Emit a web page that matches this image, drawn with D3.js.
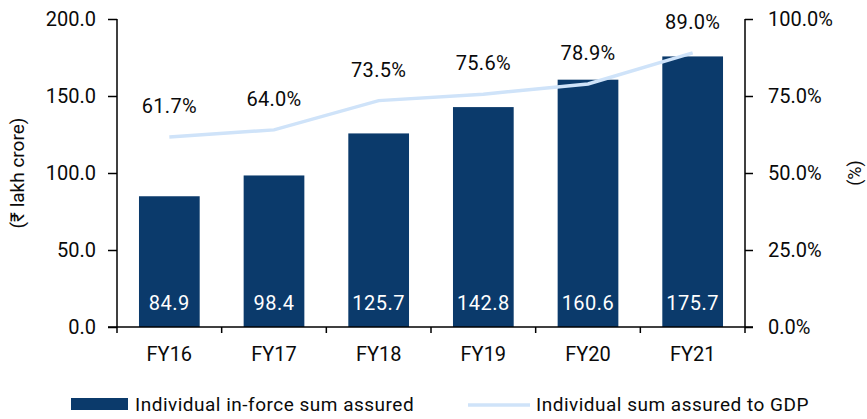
<!DOCTYPE html>
<html><head><meta charset="utf-8">
<script src="https://cdn.jsdelivr.net/npm/d3@7/dist/d3.min.js"></script>
<style>body{margin:0;background:#fff}svg{display:block}text{font-family:Roboto,"Liberation Sans",sans-serif}</style>
</head><body><svg id="c" width="867" height="419"></svg>
<script>
const categories = ["FY16","FY17","FY18","FY19","FY20","FY21"];
const sumAssured = [84.9, 98.4, 125.7, 142.8, 160.6, 175.7];
const gdpRatio = [61.7, 64.0, 73.5, 75.6, 78.9, 89.0];
const leftTicks = [0, 50, 100, 150, 200];
const rightTicks = [0, 25, 50, 75, 100];
const seriesNames = ["Individual in-force sum assured", "Individual sum assured to GDP"];

const svg = d3.select("#c");
const L = 117, R = 745, T = 19, B = 327;
const barColor = "#0b3a6b", lineColor = "#cfe3f9", ink = "#0a0a0a";
const fs = 20;

const x = d3.scaleBand().domain(categories).range([L, R]).paddingInner(0.42).paddingOuter(0.21);
const yL = d3.scaleLinear().domain([0, 200]).range([B, T]);
const yR = d3.scaleLinear().domain([0, 100]).range([B, T]);

// bars
svg.append("g").selectAll("rect").data(sumAssured).join("rect")
  .attr("x", (d,i) => x(categories[i])).attr("width", x.bandwidth())
  .attr("y", d => yL(d)).attr("height", d => B - yL(d)).attr("fill", barColor);

svg.append("g").selectAll("text").data(sumAssured).join("text")
  .attr("x", (d,i) => x(categories[i]) + x.bandwidth()/2).attr("y", B - 17)
  .attr("text-anchor", "middle").attr("fill", "#fff").attr("font-size", 20).attr("letter-spacing", 0.5)
  .text(d => d.toFixed(1));

// line
const cx = (i) => x(categories[i]) + x.bandwidth()/2;
const line = d3.line().x((d,i) => cx(i)).y(d => yR(d));
svg.append("path").datum(gdpRatio).attr("d", line).attr("fill", "none")
  .attr("stroke", lineColor).attr("stroke-width", 3.5);

svg.append("g").selectAll("text").data(gdpRatio).join("text")
  .attr("x", (d,i) => cx(i)).attr("y", d => yR(d) - 24)
  .attr("text-anchor", "middle").attr("fill", ink).attr("font-size", fs).attr("letter-spacing", 0.3)
  .text(d => d.toFixed(1) + "%");

// axes
const axL = svg.append("g").attr("transform", `translate(${L},0)`)
  .call(d3.axisLeft(yL).tickValues(leftTicks).tickFormat(d => d.toFixed(1)).tickSize(9).tickPadding(12));
const axR = svg.append("g").attr("transform", `translate(${R},0)`)
  .call(d3.axisRight(yR).tickValues(rightTicks).tickFormat(d => d.toFixed(1) + "%").tickSize(8).tickPadding(15));
const xb = d3.scaleBand().domain(categories).range([L, R]);
const axB = svg.append("g").attr("transform", `translate(0,${B})`)
  .call(d3.axisBottom(xb).tickSize(0).tickPadding(20));
// boundary ticks on x axis
svg.append("g").selectAll("line").data(d3.range(categories.length + 1)).join("line")
  .attr("x1", i => L + i * xb.step()).attr("x2", i => L + i * xb.step())
  .attr("y1", B).attr("y2", B + 6).attr("stroke", "#000").attr("stroke-width", 1.5);
svg.append("line").attr("x1", L - 9).attr("x2", R + 8).attr("y1", B).attr("y2", B)
  .attr("stroke", "#000").attr("stroke-width", 1.5);

[axL, axR, axB].forEach(a => {
  a.select(".domain").attr("stroke", "#000").attr("stroke-width", 1.5);
  a.selectAll(".tick line").attr("stroke", "#000").attr("stroke-width", 1.5);
  a.selectAll(".tick text").attr("font-size", fs).attr("fill", ink).attr("font-family", "Roboto, sans-serif");
});
axL.select(".domain").attr("d", `M0,${T}V${B}`);
axR.select(".domain").attr("d", `M0,${T}V${B}`);
axB.select(".domain").remove();

// axis titles
svg.append("text").attr("transform", `translate(24,${(T+B)/2}) rotate(-90)`)
  .attr("text-anchor", "middle").attr("font-size", 19).attr("fill", ink).text("(₹ lakh crore)");
svg.append("text").attr("transform", `translate(861,${(T+B)/2}) rotate(-90)`)
  .attr("text-anchor", "middle").attr("font-size", 18).attr("fill", ink).text("(%)");

// legend
svg.append("rect").attr("x", 71).attr("y", 398).attr("width", 57).attr("height", 12).attr("fill", barColor);
svg.append("text").attr("x", 135).attr("y", 411).attr("font-size", 19).attr("fill", ink).attr("letter-spacing", 0.5).text(seriesNames[0]);
svg.append("line").attr("x1", 468).attr("x2", 530).attr("y1", 405).attr("y2", 405).attr("stroke", lineColor).attr("stroke-width", 3.5);
svg.append("text").attr("x", 536).attr("y", 411).attr("font-size", 19).attr("fill", ink).attr("letter-spacing", 0.5).text(seriesNames[1]);
</script></body></html>
